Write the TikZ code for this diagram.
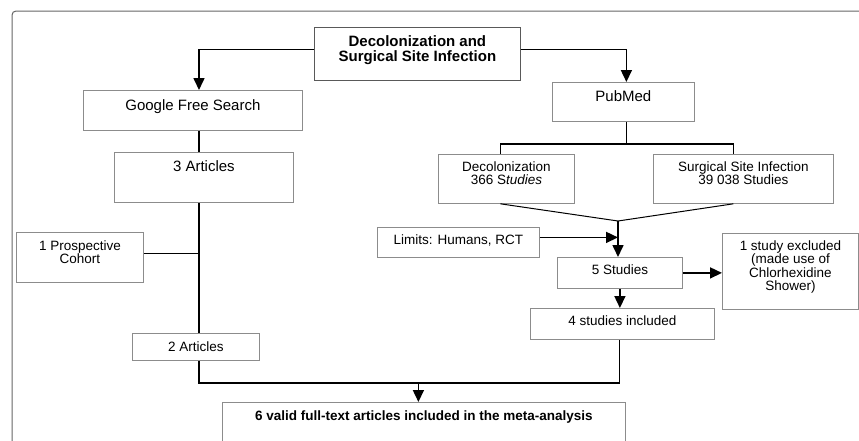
\documentclass[tikz,border=0pt]{standalone}
\usepackage{fontspec}
\setmainfont{Liberation Sans}
\usetikzlibrary{arrows.meta}

\begin{document}
\begin{tikzpicture}[x=1pt, y=-1pt,
        conn/.style={line width=1.6pt, black},
        arr/.style={-{Triangle[length=12pt, width=11pt]}},
        box/.style={draw=boxgray, line width=0.8pt, inner sep=0pt, anchor=north west,
            font=\fontsize{13.5}{13.4}\selectfont},
        bigbox/.style={box, font=\fontsize{15}{15}\selectfont}]

    \colorlet{boxgray}{black!45}
    \colorlet{titlegray}{black!65}
    \colorlet{framegray}{black!60}

    % width, height, baseline of first line, text
    \newcommand{\boxtext}[4]{\parbox[c][#2pt][t]{#1pt}{\centering\rule{0pt}{#3pt}#4}}

    \useasboundingbox (0,0) rectangle (859,440);
    \clip (0,0) rectangle (859,440);

    % Outer frame
    \draw[framegray, line width=1pt, rounded corners=4pt] (12,470) -- (12,11) -- (880,11);

    % Search sources
    \node[box, draw=titlegray, font=\fontsize{15}{14.5}\selectfont\bfseries] (title) at (314,27)
        {\boxtext{206}{53}{19.5}{Decolonization and\\Surgical Site Infection}};
    \node[bigbox] (google) at (83,90) {\boxtext{219}{40}{20}{Google Free Search}};
    \node[bigbox] (pubmed) at (552,82) {\boxtext{142}{39}{19}{PubMed}};

    % Google branch
    \node[bigbox] (art3) at (114,152) {\boxtext{179}{50}{19}{3 Articles}};
    \node[box] (prosp) at (16,232) {\boxtext{127}{50}{18}{1 Prospective\\Cohort}};
    \node[box] (art2) at (132,333) {\boxtext{127}{27}{18}{2 Articles}};

    % PubMed branch
    \node[box] (dec) at (438,154) {\boxtext{136}{49}{17}{Decolonization\\366 S\textit{tudies}}};
    \node[box] (ssi) at (653,154) {\boxtext{180}{49}{17}{Surgical Site Infection\\39 038 Studies}};
    \node[box] (lim) at (377,227) {\boxtext{162}{30}{17}{Limits: Humans, RCT}};
    \node[box] (s5) at (557,257) {\boxtext{125}{31}{17}{5 Studies}};
    \node[box] (excl) at (722,233)
        {\boxtext{136}{76}{17}{1 study excluded\\(made use of\\Chlorhexidine\\Shower)}};
    \node[box] (s4) at (530,308) {\boxtext{184}{31}{17}{4 studies included}};

    % Result
    \node[box, font=\fontsize{13.5}{13.4}\selectfont\bfseries] (final) at (222,402)
        {\boxtext{403}{50}{18}{6 valid full-text articles included in the meta-analysis}};

    \coordinate (lc) at (199,0);
    \coordinate (join) at (618,221);

    % Connectors from the topic
    \draw[conn, arr] ([yshift=4.5pt]title.west) -| (lc |- google.north);
    \draw[conn, arr] ([yshift=4.5pt]title.east) -| ([xshift=3pt]pubmed.north);

    % Google branch
    \draw[conn] (lc |- google.south) -- (lc |- art3.north);
    \draw[conn] (lc |- art3.south) -- (lc |- art2.north);
    \draw[conn] ([yshift=4pt]prosp.east) -- ([yshift=4pt]prosp.east -| lc);
    \draw[conn] (lc |- art2.south) -- ++(0,22) coordinate (bend) -| ([xshift=-3pt]s4.south);
    \draw[conn, arr] ([xshift=-5.5pt]final.north |- bend) -- ([xshift=-5.5pt]final.north);

    % PubMed branch
    \draw[conn] ([xshift=3pt]pubmed.south) -- ++(0,22) coordinate (split);
    \draw[conn] ([xshift=-6pt]dec.north) |- (split) -| ([xshift=-10pt]ssi.north);
    \draw[black, line width=1pt] ([xshift=-6pt]dec.south) -- (join) -- ([xshift=-10pt]ssi.south);
    \draw[conn, arr] (join) -- (join |- s5.north);
    \draw[conn, arr] ([yshift=5pt]lim.east) -- ([yshift=5pt]lim.east -| join);
    \draw[conn, arr] (s5.east) -- (s5.east -| excl.west);
    \draw[conn, arr] (s5.south) -- (s5.south |- s4.north);
\end{tikzpicture}
\end{document}
